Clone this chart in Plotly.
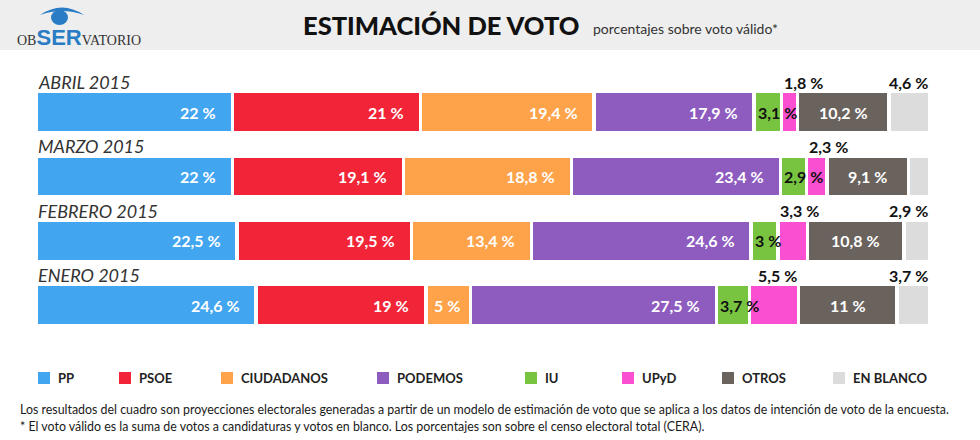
import plotly.graph_objects as go

months = ["ABRIL 2015", "MARZO 2015", "FEBRERO 2015", "ENERO 2015"]
parties = ["PP", "PSOE", "CIUDADANOS", "PODEMOS", "IU", "UPyD", "OTROS", "EN BLANCO"]
colors = ["#41a5f0", "#f22538", "#fea34a", "#8e5bbf", "#78c440", "#f94fd0", "#6a625d", "#dcdcdc"]

pp = [22, 22, 22.5, 24.6]
psoe = [21, 19.1, 19.5, 19]
cs = [19.4, 18.8, 13.4, 5]
podemos = [17.9, 23.4, 24.6, 27.5]
iu = [3.1, 2.9, 3, 3.7]
upyd = [1.8, 2.3, 3.3, 5.5]
otros = [10.2, 9.1, 10.8, 11]
blanco = [4.6, 2.4, 2.9, 3.7]

series = [pp, psoe, cs, podemos, iu, upyd, otros, blanco]

W, H = 980, 440
ML, MR, MT, MB = 36, 50, 80, 92
PW, PH = W - ML - MR, H - MT - MB

# legend key left edges (pixels)
legend_x = [38, 119, 221, 377, 525, 622, 722, 833]


def px(x):
    return (x - ML) / PW


def py(y):
    return (H - MB - y) / PH


def fmt(v):
    return f"{v:g}".replace(".", ",") + " %"


fig = go.Figure()
for name, col, vals in zip(parties, colors, series):
    fig.add_trace(go.Bar(
        orientation="h", x=vals, y=months, name=name,
        marker=dict(color=col, line=dict(color="white", width=3.5)),
        showlegend=False, hoverinfo="x+name",
    ))

ann = []
BOLD = dict(family="Lato", weight=700)
for i, m in enumerate(months):
    ann.append(dict(x=0, y=m, xref="x", yref="y", text=m, showarrow=False,
                    xanchor="left", yanchor="middle", yshift=30,
                    font=dict(family="Lato", size=18, color="#333", style="italic")))
    cum = 0
    for j, vals in enumerate(series):
        v = vals[i]
        start, end = cum, cum + v
        cum = end
        if j <= 3:
            ann.append(dict(x=end - min(1.6, v * 0.2), y=m, text=fmt(v), showarrow=False,
                            xanchor="right", yanchor="middle",
                            font=dict(size=16, color="white", **BOLD)))
        elif j == 4:
            ann.append(dict(x=start + 0.2, y=m, text=fmt(v), showarrow=False,
                            xanchor="left", yanchor="middle",
                            font=dict(size=16, color="#111", **BOLD)))
        elif j == 5:
            if v > 4.5:
                ann.append(dict(x=end, y=m, text=fmt(v), showarrow=False,
                                xanchor="right", yanchor="middle", yshift=30,
                                font=dict(size=16, color="#111", **BOLD)))
            else:
                ann.append(dict(x=start, y=m, text=fmt(v), showarrow=False,
                                xanchor="left", yanchor="middle", yshift=30,
                                font=dict(size=16, color="#111", **BOLD)))
        elif j == 6:
            ann.append(dict(x=(start + end) / 2, y=m, text=fmt(v), showarrow=False,
                            xanchor="center", yanchor="middle",
                            font=dict(size=16, color="white", **BOLD)))
        else:
            ann.append(dict(x=end, y=m, text=fmt(v), showarrow=False,
                            xanchor="right", yanchor="middle", yshift=30,
                            font=dict(size=16, color="#111", **BOLD)))

# legend (keys + labels)
shapes = []
for name, col, lx in zip(parties, colors, legend_x):
    shapes.append(dict(type="rect", xref="paper", yref="paper",
                       x0=px(lx), x1=px(lx + 12), y0=py(372), y1=py(384),
                       fillcolor=col, line=dict(width=0)))
    ann.append(dict(xref="paper", yref="paper", x=px(lx + 18), y=py(378), text=name,
                    showarrow=False, xanchor="left", yanchor="middle",
                    font=dict(family="Lato", size=13, color="#222", weight=700)))

# title & subtitle
ann.append(dict(xref="paper", yref="paper", x=px(301), y=py(25), text="ESTIMACIÓN DE VOTO",
                showarrow=False, xanchor="left", yanchor="middle",
                font=dict(family="Lato", size=25.5, weight=900, color="#111")))
ann.append(dict(xref="paper", yref="paper", x=px(591), y=py(29), text="porcentajes sobre voto válido*",
                showarrow=False, xanchor="left", yanchor="middle",
                font=dict(family="Lato", size=14, color="#333")))
# logo text
ann.append(dict(xref="paper", yref="paper", x=px(15), y=py(37), showarrow=False,
                xanchor="left", yanchor="middle",
                text="OB<span style='font-family:Liberation Sans;font-size:22px;color:#2a7dc4'><b>SER</b></span>VATORIO",
                font=dict(family="Liberation Serif", size=14, color="#333")))
# footnote
ann.append(dict(xref="paper", yref="paper", x=px(18), y=py(409), showarrow=False,
                xanchor="left", yanchor="middle",
                text="Los resultados del cuadro son proyecciones electorales generadas a partir de un modelo de estimación de voto que se aplica a los datos de intención de voto de la encuesta.",
                font=dict(family="Lato", size=12.4, color="#1a1a1a")))
ann.append(dict(xref="paper", yref="paper", x=px(18), y=py(426), showarrow=False,
                xanchor="left", yanchor="middle",
                text="* El voto válido es la suma de votos a candidaturas y votos en blanco. Los porcentajes son sobre el censo electoral total (CERA).",
                font=dict(family="Lato", size=12.4, color="#1a1a1a")))

shapes += [
    dict(type="rect", xref="paper", yref="paper", x0=px(0), x1=px(W), y0=py(0), y1=py(50),
         fillcolor="#eeeeee", line=dict(width=0), layer="below"),
    # eye lid
    dict(type="path", xref="paper", yref="paper", fillcolor="#2a7dc4", line=dict(width=0),
         path=f"M {px(40)},{py(15)} Q {px(62)},{py(0)} {px(84)},{py(15)} Q {px(62)},{py(7)} {px(40)},{py(15)} Z"),
    # pupil
    dict(type="circle", xref="paper", yref="paper", fillcolor="#2a7dc4", line=dict(width=0),
         x0=px(51), x1=px(68), y0=py(10), y1=py(25)),
]

fig.update_layout(
    width=W, height=H,
    margin=dict(l=ML, r=MR, t=MT, b=MB),
    barmode="stack", bargap=1 - 43 / 67,
    paper_bgcolor="white", plot_bgcolor="white",
    xaxis=dict(range=[0, 100], visible=False, fixedrange=True),
    yaxis=dict(categoryorder="array", categoryarray=months, autorange="reversed",
               visible=False, fixedrange=True),
    showlegend=False,
    annotations=ann, shapes=shapes,
    font=dict(family="Lato"),
)

fig.write_html("out.html")
